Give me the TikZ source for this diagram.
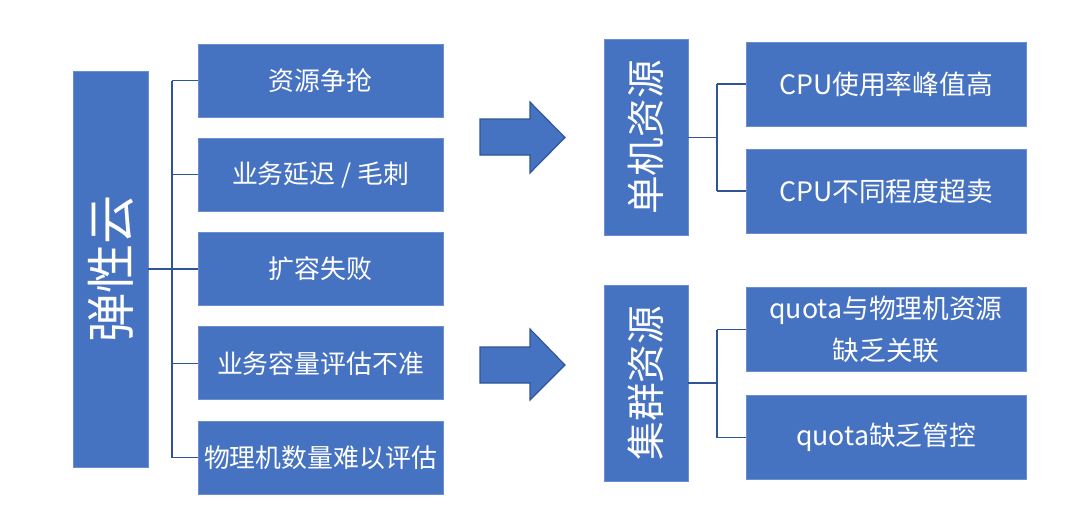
\documentclass[tikz,border=0pt]{standalone}
\usepackage{fontspec}
\setmainfont{Noto Sans CJK SC}
\usepackage{xcolor}
\usepackage{tikz}
\usetikzlibrary{positioning,calc}
\definecolor{boxblue}{HTML}{4672C2}
\definecolor{edgeblue}{HTML}{6A8FD0}
\definecolor{lineblue}{HTML}{2F5597}

\begin{document}
\begin{tikzpicture}[x=0.025cm, y=-0.025cm,
    box/.style={draw=edgeblue, fill=boxblue, text=white, inner sep=0pt, line width=0.6pt},
    leftbox/.style={box, minimum width=6.125cm, minimum height=1.825cm, font=\fontsize{18.4}{22}\selectfont},
    rightbox/.style={box, minimum width=7cm, minimum height=2.1cm, align=center, font=\fontsize{19}{30}\selectfont},
    midbox/.style={box, rotate=90, minimum height=2.1cm, minimum width=4.9cm, font=\fontsize{27.5}{30}\selectfont},
    link/.style={draw=lineblue, line width=0.9pt},
    bigarrow/.style={fill=boxblue, draw=lineblue, line width=0.8pt, line join=miter}]
    \useasboundingbox (0,0) rectangle (1080,527);

    % Root
    \node[box, rotate=90, minimum width=9.9cm, minimum height=1.875cm,
          font=\fontsize{35}{40}\selectfont] (yun) at (110.5,269) {弹性云};

    % Causes
    \node[leftbox] (c1) at (320.5,80.5) {资源争抢};
    \node[leftbox] (c2) at (320.5,174.75) {业务延迟 / 毛刺};
    \node[leftbox] (c3) at (320.5,269) {扩容失败};
    \node[leftbox] (c4) at (320.5,363.25) {业务容量评估不准};
    \node[leftbox] (c5) at (320.5,457.5) {物理机数量难以评估};

    \coordinate (lbus) at (172,269);
    \draw[link] (yun.south) -- (lbus);
    \draw[link] (lbus |- c1.west) -- (lbus |- c5.west);
    \foreach \i in {1,...,5} {
        \draw[link] (lbus |- c\i.west) -- (c\i.west);
    }

    % Arrows
    \draw[bigarrow] (480,119) -- (530,119) -- (530,102) -- (565,137.5) -- (530,173) -- (530,155) -- (480,155) -- cycle;
    \draw[bigarrow] (480,347) -- (530,347) -- (530,329) -- (565,365) -- (530,400) -- (530,383) -- (480,383) -- cycle;

    % Single machine
    \node[midbox] (dan) at (646,137.5) {单机资源};
    \node[rightbox] (r1) at (886,84) {CPU使用率峰值高};
    \node[rightbox] (r2) at (886,191) {CPU不同程度超卖};

    \coordinate (rbus1) at (717,137.5);
    \draw[link] (dan.south) -- (rbus1);
    \draw[link] (rbus1 |- r1.west) -- (rbus1 |- r2.west);
    \foreach \i in {1,2} {
        \draw[link] (rbus1 |- r\i.west) -- (r\i.west);
    }

    % Cluster
    \node[midbox] (ji) at (646,383) {集群资源};
    \node[rightbox] (r3) at (886,329.5) {quota与物理机资源\\缺乏关联};
    \node[rightbox] (r4) at (886,437.5) {quota缺乏管控};

    \coordinate (rbus2) at (717,383);
    \draw[link] (ji.south) -- (rbus2);
    \draw[link] (rbus2 |- r3.west) -- (rbus2 |- r4.west);
    \foreach \i in {3,4} {
        \draw[link] (rbus2 |- r\i.west) -- (r\i.west);
    }
\end{tikzpicture}
\end{document}
